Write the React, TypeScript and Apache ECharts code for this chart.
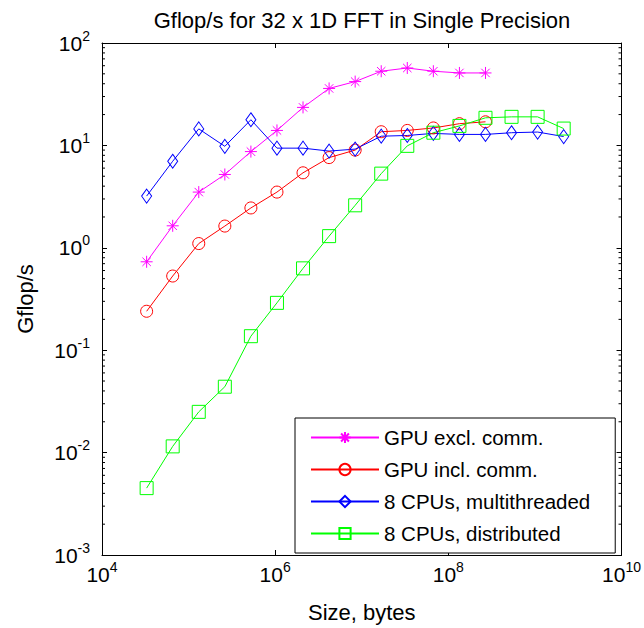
import React, { useEffect, useRef } from "react";
import * as echarts from "echarts";

const sizes = [
  32768, 65536, 131072, 262144, 524288, 1048576, 2097152, 4194304, 8388608,
  16777216, 33554432, 67108864, 134217728, 268435456, 536870912, 1073741824,
  2147483648,
];

const gpuExcl = [0.73, 1.64, 3.5, 5.2, 8.7, 14.0, 23.5, 36, 42, 53, 57, 53, 51, 51];
const gpuIncl = [0.24, 0.53, 1.1, 1.63, 2.45, 3.5, 5.4, 7.6, 9.0, 13.6, 14.0, 14.8, 16.3, 17.0];
const cpuMulti = [3.2, 7.0, 14.5, 9.8, 17.8, 9.4, 9.4, 8.8, 9.2, 12.3, 12.5, 13.1, 12.8, 12.8, 13.3, 13.5, 12.2];
const cpuDist = [0.0045, 0.0115, 0.025, 0.044, 0.137, 0.29, 0.63, 1.3, 2.6, 5.3, 9.9, 13.3, 15.5, 18.6, 19.0, 19.0, 14.6];

const seriesNames = [
  "GPU excl. comm.",
  "GPU incl. comm.",
  "8 CPUs, multithreaded",
  "8 CPUs, distributed",
];

const title = "Gflop/s for 32 x 1D FFT in Single Precision";
const xName = "Size, bytes";
const yName = "Gflop/s";

const FONT = "Liberation Sans";

const minorTicks: number[] = [];
for (let k = -3; k <= 1; k++) {
  for (let m = 2; m <= 9; m++) minorTicks.push(m * Math.pow(10, k));
}

const asterisk =
  "path://M5,0L5,10M0,5L10,5M1.5,1.5L8.5,8.5M1.5,8.5L8.5,1.5";

const pairs = (vals: number[]) => vals.map((v, i) => [sizes[i], v]);

const expLabel = (v: number) => {
  const e = Math.round(Math.log10(v));
  return `{b|10}{s|${e}}`;
};

const rich = {
  b: { fontSize: 21, fontFamily: FONT, color: "#000", verticalAlign: "bottom", lineHeight: 21 },
  s: { fontSize: 14, fontFamily: FONT, color: "#000", verticalAlign: "bottom", padding: [0, 0, 11, 0], lineHeight: 14 },
};

export default function App() {
  const ref = useRef<HTMLDivElement>(null);
  useEffect(() => {
    if (!ref.current) return;
    const chart = echarts.init(ref.current, undefined, { renderer: "svg" });
    const mk = (
      name: string,
      vals: number[],
      color: string,
      symbol: string,
      symbolSize: number | number[]
    ) => ({
      type: "line",
      name,
      data: pairs(vals),
      xAxisIndex: 0,
      yAxisIndex: 0,
      color,
      symbol,
      symbolSize,
      showAllSymbol: true,
      lineStyle: { color, width: 1 },
      itemStyle: { color: "rgba(0,0,0,0)", borderColor: color, borderWidth: 1 },
      emphasis: { disabled: true },
      z: 3,
    });
    const axisCommonX = {
      type: "log",
      logBase: 10,
      min: 1e4,
      max: 1e10,
      interval: 2,
      axisLine: { show: true, lineStyle: { color: "#000", width: 1 } },
      axisTick: { show: true, inside: true, length: 5, lineStyle: { color: "#000" } },
      splitLine: { show: false },
      minorTick: { show: false },
    };
    const axisCommonY = {
      type: "log",
      logBase: 10,
      min: 1e-3,
      max: 1e2,
      interval: 1,
      axisLine: { show: true, lineStyle: { color: "#000", width: 1 } },
      axisTick: { show: true, inside: true, length: 5, lineStyle: { color: "#000" } },
      splitLine: { show: false },
      minorTick: { show: false },
    };
    chart.setOption({
      animation: false,
      backgroundColor: "#fff",
      textStyle: { fontFamily: FONT, color: "#000" },
      title: {
        text: title,
        left: 357,
        textAlign: "center",
        top: 4,
        textStyle: { fontFamily: FONT, fontSize: 22, fontWeight: "normal", color: "#000" },
      },
      grid: { left: 102, right: 22, top: 43, bottom: 71, containLabel: false },
      xAxis: [
        {
          ...axisCommonX,
          position: "bottom",
          name: xName,
          nameLocation: "middle",
          nameGap: 46,
          nameTextStyle: { fontFamily: FONT, fontSize: 22, color: "#000" },
          axisLabel: { formatter: expLabel, rich, margin: 9 },
        },
        { ...axisCommonX, position: "top", axisLabel: { show: false } },
      ],
      yAxis: [
        {
          ...axisCommonY,
          position: "left",
          name: yName,
          nameLocation: "middle",
          nameRotate: 90,
          nameGap: 66,
          nameTextStyle: { fontFamily: FONT, fontSize: 22, color: "#000" },
          axisLabel: { formatter: expLabel, rich, margin: 12 },
        },
        { ...axisCommonY, position: "right", axisLabel: { show: false } },
      ],
      legend: {
        data: seriesNames,
        orient: "vertical",
        left: 295,
        top: 418,
        padding: [9, 25, 9, 15],
        itemWidth: 68,
        itemHeight: 14,
        itemGap: 11,
        borderColor: "#000",
        borderWidth: 1,
        backgroundColor: "#fff",
        textStyle: { fontFamily: FONT, fontSize: 20.5, lineHeight: 20, color: "#000" },
        selectedMode: false,
      },
      series: [
        mk(seriesNames[0], gpuExcl, "#ff00ff", asterisk, 12),
        mk(seriesNames[1], gpuIncl, "#ff0000", "circle", 12),
        mk(seriesNames[2], cpuMulti, "#0000ff", "diamond", [10, 14]),
        mk(seriesNames[3], cpuDist, "#00ff00", "rect", 13),
        {
          type: "custom",
          name: "minor",
          xAxisIndex: 0,
          yAxisIndex: 0,
          silent: true,
          data: minorTicks.map((v) => [1e4, v]),
          renderItem: (_p: any, api: any) => {
            const v = api.value(1);
            const l = api.coord([1e4, v]);
            const r = api.coord([1e10, v]);
            return {
              type: "group",
              children: [
                { type: "line", shape: { x1: l[0], y1: l[1], x2: l[0] + 3, y2: l[1] }, style: { stroke: "#000", lineWidth: 1 } },
                { type: "line", shape: { x1: r[0] - 3, y1: r[1], x2: r[0], y2: r[1] }, style: { stroke: "#000", lineWidth: 1 } },
              ],
            };
          },
          z: 5,
        },
      ],
    });
    return () => chart.dispose();
  }, []);
  return (
    <div
      ref={ref}
      style={{ position: "fixed", left: 0, top: 0, width: 644, height: 628 }}
    />
  );
}
